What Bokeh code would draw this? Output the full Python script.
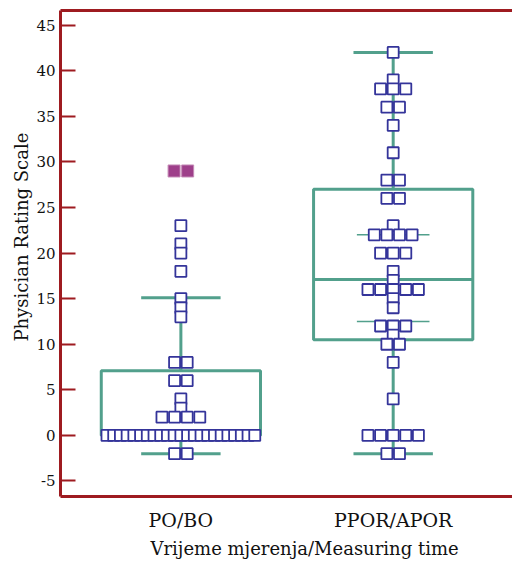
from collections import Counter
from bokeh.plotting import figure
from bokeh.models import Range1d, FixedTicker, LinearAxis, Title
from bokeh.embed import file_html
from bokeh.resources import INLINE

# ---------------- data ----------------
groups = ["PO/BO", "PPOR/APOR"]
group_pos = [1, 2]

po_values = [23, 21, 20, 18, 15, 14, 13, 8, 8, 6, 6, 4, 3,
             2, 2, 2, 2] + [0] * 23 + [-2, -2]
po_outliers = [29, 29]
ppor_values = [42, 39, 38, 38, 38, 36, 36, 34, 31, 28, 28, 26, 26, 23,
               22, 22, 22, 22, 20, 20, 20, 18, 17, 16, 16, 16, 16, 16,
               15, 14, 12, 12, 12, 11, 10, 10, 8, 4,
               0, 0, 0, 0, 0, -2, -2]
ppor_outliers = []

q1 = [0, 10.5]
median = [0, 17.1]
q3 = [7.1, 27.0]
whisker_lo = [-2.0, -2.0]
whisker_hi = [15.1, 42.0]
ci_group = [2]
ci_lo = [12.5]
ci_hi = [22.0]

y_ticks = [-5, 0, 5, 10, 15, 20, 25, 30, 35, 40, 45]
y_title = "Physician Rating Scale"
x_title = "Vrijeme mjerenja/Measuring time"

# ---------------- styles ----------------
RED = "#9e1b20"
TEAL = "#52a08c"
NAVY = "#34349a"
PINK = "#9e3f8a"
FONT = "DejaVu Serif"
TXT = "#111111"

BOX_HALF = 0.375
CAP_HALF = 0.187
CI_HALF = 0.171
STEP = 0.0594
MAX_HALF = 0.348

p = figure(width=512, height=560, output_backend="svg", toolbar_location=None,
           x_range=Range1d(0.433, 2.562), y_range=Range1d(-6.7, 46.6),
           min_border_left=60, min_border_right=0, min_border_top=10,
           min_border_bottom=63)
p.outline_line_color = None
p.xgrid.visible = False
p.ygrid.visible = False
p.background_fill_color = "white"

# boxes
p.quad(left=[g - BOX_HALF for g in group_pos], right=[g + BOX_HALF for g in group_pos],
       bottom=q1, top=q3, fill_color=None, line_color=TEAL, line_width=3)
p.segment(x0=[g - BOX_HALF for g in group_pos], x1=[g + BOX_HALF for g in group_pos],
          y0=median, y1=median, line_color=TEAL, line_width=3)
# whiskers
p.segment(x0=group_pos, x1=group_pos, y0=whisker_lo, y1=q1, line_color=TEAL, line_width=3)
p.segment(x0=group_pos, x1=group_pos, y0=q3, y1=whisker_hi, line_color=TEAL, line_width=3)
p.segment(x0=[g - CAP_HALF for g in group_pos], x1=[g + CAP_HALF for g in group_pos],
          y0=whisker_lo, y1=whisker_lo, line_color=TEAL, line_width=3)
p.segment(x0=[g - CAP_HALF for g in group_pos], x1=[g + CAP_HALF for g in group_pos],
          y0=whisker_hi, y1=whisker_hi, line_color=TEAL, line_width=3)
# thin lines
p.segment(x0=[g - CI_HALF for g in ci_group], x1=[g + CI_HALF for g in ci_group],
          y0=ci_lo, y1=ci_lo, line_color=TEAL, line_width=1.5)
p.segment(x0=[g - CI_HALF for g in ci_group], x1=[g + CI_HALF for g in ci_group],
          y0=ci_hi, y1=ci_hi, line_color=TEAL, line_width=1.5)


def dot_positions(center, values, step_max):
    xs, ys = [], []
    counts = Counter(values)
    for v, n in counts.items():
        step = step_max if n == 1 else min(step_max, 2 * MAX_HALF / (n - 1))
        for i in range(n):
            xs.append(center + (i - (n - 1) / 2) * step)
            ys.append(v)
    return xs, ys


for g, vals, outs in [(group_pos[0], po_values, po_outliers),
                      (group_pos[1], ppor_values, ppor_outliers)]:
    xs, ys = dot_positions(g, vals, STEP)
    p.scatter(xs, ys, marker="square", size=11, fill_color="white",
              line_color=NAVY, line_width=1.8)
    if outs:
        ox, oy = dot_positions(g, outs, 0.064)
        p.scatter(ox, oy, marker="square", size=12, fill_color=PINK,
                  line_color="#c48ab6", line_width=1)

# axes
p.yaxis.ticker = FixedTicker(ticks=y_ticks)
p.yaxis.major_label_overrides = {t: str(t) for t in y_ticks}
p.yaxis.axis_line_color = RED
p.yaxis.axis_line_width = 3
p.yaxis.major_tick_line_color = RED
p.yaxis.major_tick_line_width = 2
p.yaxis.major_tick_in = 15
p.yaxis.major_tick_out = 0
p.yaxis.minor_tick_line_color = None
p.yaxis.major_label_standoff = 5

p.xaxis.ticker = FixedTicker(ticks=group_pos)
p.xaxis.major_label_overrides = {gp: name for gp, name in zip(group_pos, groups)}
p.xaxis.axis_line_color = RED
p.xaxis.axis_line_width = 3
p.xaxis.major_tick_line_color = None
p.xaxis.major_tick_in = 0
p.xaxis.major_tick_out = 0
p.xaxis.minor_tick_line_color = None
p.xaxis.major_label_standoff = 12

for ax in [p.xaxis[0], p.yaxis[0]]:
    ax.major_label_text_font = FONT
    ax.major_label_text_color = TXT
p.yaxis.major_label_text_font_size = "15px"
p.xaxis.major_label_text_font_size = "19px"

top = LinearAxis(ticker=FixedTicker(ticks=[]), axis_line_color=RED, axis_line_width=3,
                 major_tick_in=0, major_tick_out=0, minor_tick_line_color=None,
                 major_label_text_font_size="0px", major_label_standoff=0)
p.add_layout(top, "above")

# axis titles
p.add_layout(Title(text=x_title, align="left", offset=90, standoff=4,
                   text_font=FONT, text_font_size="18px", text_font_style="normal",
                   text_color=TXT), "below")
p.add_layout(Title(text=y_title, align="left", offset=155, standoff=3,
                   text_font=FONT, text_font_size="18px", text_font_style="normal",
                   text_color=TXT), "left")

open("out.html", "w").write(file_html(p, INLINE))
